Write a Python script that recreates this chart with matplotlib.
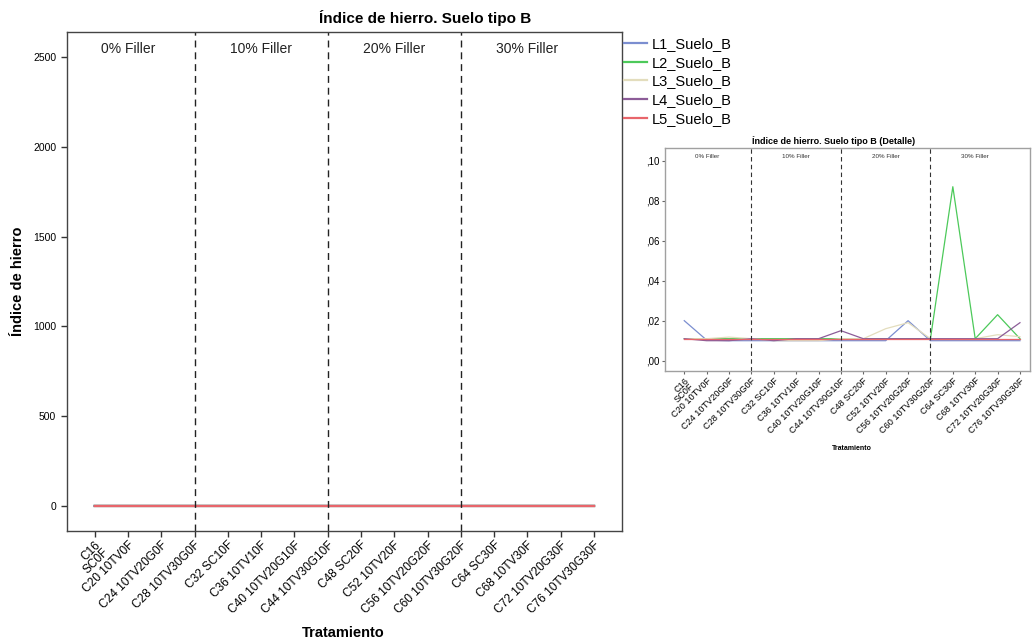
import matplotlib
matplotlib.use("Agg")
import matplotlib.pyplot as plt
import numpy as np

plt.rcParams['font.family'] = ['Liberation Sans', 'DejaVu Sans']

# Datos
tratamientos = ["C16\nSC0F", "C20 10TV0F", "C24 10TV20G0F", "C28 10TV30G0F",
                "C32 SC10F", "C36 10TV10F", "C40 10TV20G10F", "C44 10TV30G10F",
                "C48 SC20F", "C52 10TV20F", "C56 10TV20G20F", "C60 10TV30G20F",
                "C64 SC30F", "C68 10TV30F", "C72 10TV20G30F", "C76 10TV30G30F"]
grupos = ["0% Filler", "10% Filler", "20% Filler", "30% Filler"]
series = ["L1_Suelo_B", "L2_Suelo_B", "L3_Suelo_B", "L4_Suelo_B", "L5_Suelo_B"]

L1 = [0.020, 0.0103, 0.010, 0.010, 0.010, 0.010, 0.010, 0.010,
      0.010, 0.010, 0.020, 0.010, 0.010, 0.010, 0.010, 0.010]
L2 = [0.011, 0.011, 0.011, 0.011, 0.011, 0.011, 0.011, 0.011,
      0.011, 0.011, 0.011, 0.011, 0.087, 0.011, 0.023, 0.011]
L3 = [0.011, 0.011, 0.0118, 0.011, 0.010, 0.010, 0.010, 0.011,
      0.011, 0.016, 0.019, 0.011, 0.011, 0.011, 0.013, 0.012]
L4 = [0.011, 0.010, 0.010, 0.011, 0.010, 0.011, 0.011, 0.015,
      0.011, 0.011, 0.011, 0.011, 0.011, 0.011, 0.011, 0.019]
L5 = [0.011] * 16
valores = [L1, L2, L3, L4, L5]

colores = ['#7b8ed0', '#4cc95a', '#e3ddbd', '#8c5c98', '#e8656b']
x = np.arange(len(tratamientos))
cortes = [3, 7, 11]
centros = [1, 5, 9, 13]

fig = plt.figure(figsize=(10.32, 6.44), dpi=100)

# --- Gráfico principal ---
ax = fig.add_axes([0.0646, 0.1759, 0.5378, 0.7744])
for v, c, s in zip(valores, colores, series):
    ax.plot(x, v, color=c, linewidth=1.6, label=s)
for xc in cortes:
    ax.axvline(xc, color='#222222', linestyle=(0, (5, 3.5)), linewidth=1)
for xc, g in zip(centros, grupos):
    ax.text(xc, 0.966, g, transform=ax.get_xaxis_transform(), ha='center',
            va='center', fontsize=10, color='#222222')
ax.set_xlim(-0.84, 15.83)
ax.set_ylim(-138, 2641)
ax.set_yticks(np.arange(0, 2501, 500))
ax.set_xticks(x)
ax.set_xticklabels(tratamientos, rotation=45, ha='right', va='top',
                   rotation_mode='anchor', fontsize=8.6, linespacing=0.85)
ax.tick_params(axis='y', labelsize=7.5, length=4, width=1, color='#333333')
ax.tick_params(axis='x', length=4, width=1, color='#333333', pad=2)
for sp in ax.spines.values():
    sp.set_color('#444444')
    sp.set_linewidth(1)
ax.set_ylabel('Índice de hierro', fontsize=10.5, fontweight='bold', labelpad=6)
fig.text(343 / 1032, 1 - 633 / 644, 'Tratamiento', ha='center', va='center',
         fontsize=10.5, fontweight='bold')
fig.text(425 / 1032, 1 - 18 / 644, 'Índice de hierro. Suelo tipo B', ha='center',
         va='center', fontsize=11, fontweight='bold')

ax.legend(loc='upper left', bbox_to_anchor=(624 / 1032, 1 - 37 / 644),
          bbox_transform=fig.transFigure, frameon=False, fontsize=10.5,
          borderpad=0, handlelength=1.6, handletextpad=0.3, labelspacing=0.32,
          borderaxespad=0)

# --- Detalle ---
ax2 = fig.add_axes([0.6444, 0.4244, 0.3537, 0.3453])
for v, c in zip(valores, colores):
    ax2.plot(x, v, color=c, linewidth=0.9)
for xc in cortes:
    ax2.axvline(xc, color='#333333', linestyle=(0, (4, 3)), linewidth=0.8)
for xc, g in zip(centros, grupos):
    ax2.text(xc, 0.965, g, transform=ax2.get_xaxis_transform(), ha='center',
             va='center', fontsize=4.5, color='#333333')
ax2.set_xlim(-0.86, 15.45)
ax2.set_ylim(-0.005, 0.1062)
yt = np.arange(0, 0.101, 0.02)
ax2.set_yticks(yt)
ax2.set_yticklabels([',' + ('%.2f' % t)[2:] for t in yt])
ax2.set_xticks(x)
ax2.set_xticklabels(tratamientos, rotation=45, ha='right', va='top',
                    rotation_mode='anchor', fontsize=6.6, linespacing=0.8)
ax2.tick_params(axis='y', labelsize=7, length=2.5, width=0.8, color='#666666', pad=1.5)
ax2.tick_params(axis='x', length=2.5, width=0.8, color='#666666', pad=1.5)
for sp in ax2.spines.values():
    sp.set_color('#a0a0a0')
    sp.set_linewidth(1)
fig.text(834 / 1032, 1 - 141 / 644, 'Índice de hierro. Suelo tipo B (Detalle)',
         ha='center', va='center', fontsize=6.5, fontweight='bold')
fig.text(852 / 1032, 1 - 448 / 644, 'Tratamiento', ha='center', va='center',
         fontsize=5, fontweight='bold')

fig.savefig('out.png', dpi=100)
